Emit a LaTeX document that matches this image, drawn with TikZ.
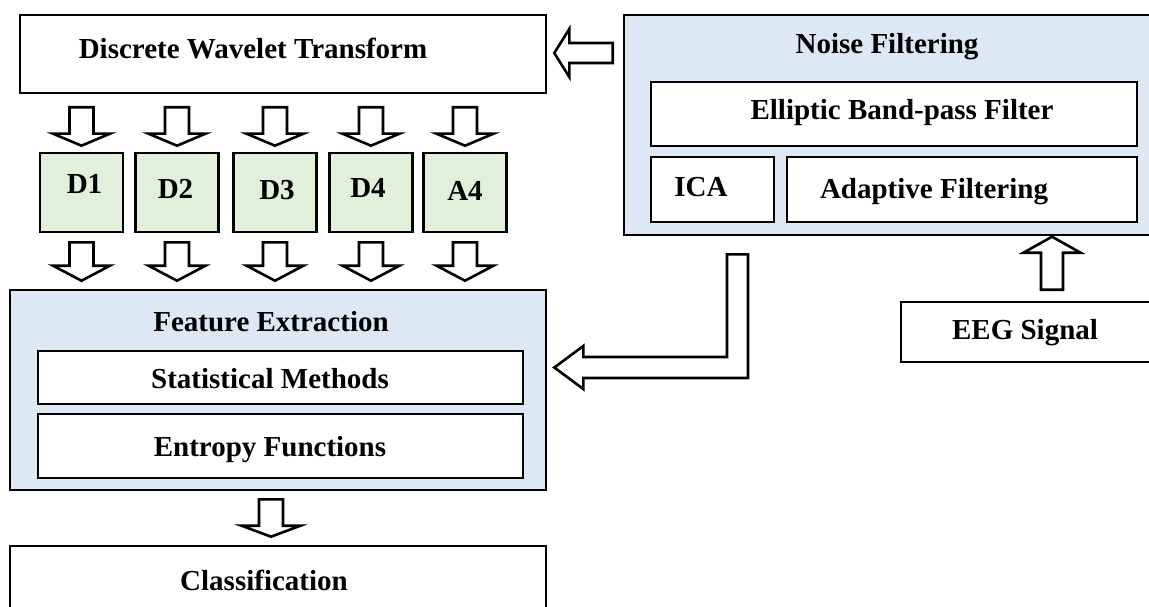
\documentclass[tikz,border=0pt]{standalone}
\usepackage{fontspec}
\setmainfont{Liberation Serif}
\usepackage{tikz}
\usetikzlibrary{calc}

\definecolor{groupblue}{HTML}{DEE8F4}
\definecolor{bandgreen}{HTML}{E2EFDA}

\tikzset{
	box/.style = {draw, line width = 2.6pt, fill = white, inner sep = 0pt},
	group/.style = {box, fill = groupblue},
	band/.style = {box, fill = bandgreen},
	blockarr/.style = {draw, line width = 2.6pt, fill = white, line join = miter}
}

% start, end, shaft half width, head half width, head length
\newcommand{\blockarrow}[5]{
	\coordinate (ba-s) at #1;
	\coordinate (ba-e) at #2;
	\coordinate (ba-h) at ($(ba-e)!#5!(ba-s)$);
	\draw [blockarr] ($(ba-s)!#3!90:(ba-e)$) -- ($(ba-h)!#3!90:(ba-e)$) -- ($(ba-h)!#4!90:(ba-e)$) -- (ba-e)
		-- ($(ba-h)!#4!-90:(ba-e)$) -- ($(ba-h)!#3!-90:(ba-e)$) -- ($(ba-s)!#3!-90:(ba-e)$) -- cycle;
}

\begin{document}
\begin{tikzpicture}[x = 1pt, y = -1pt, font = \bfseries\fontsize{29}{34}\selectfont]
	\useasboundingbox (0,0) rectangle (1149,607);

	\node [box, minimum width = 526pt, minimum height = 78pt,
		label = {[name = dwt-t, xshift = -30pt, yshift = 5pt]center:Discrete Wavelet Transform}] (dwt) at (283,54) {};

	\foreach \n/\x/\t/\dx/\dy in {d1/81.5/D1/3/9, d2/177/D2/-1.5/4, d3/275/D3/2/2, d4/371/D4/-3/5, a4/465/A4/0/2}
	{
		\node [band, minimum width = 83pt, minimum height = 79pt,
			label = {[name = \n-t, xshift = \dx pt, yshift = \dy pt]center:\t}] (\n) at (\x,192.5) {};
	}

	\node [group, minimum width = 536pt, minimum height = 200pt,
		label = {[name = feat-t, xshift = -7pt, yshift = 68pt]center:Feature Extraction}] (feat) at (278,390) {};
	\node [box, minimum width = 485pt, minimum height = 53pt,
		label = {[name = stat-t, xshift = -10.5pt, yshift = -1pt]center:Statistical Methods}] (stat) at (280.5,377.5) {};
	\node [box, minimum width = 485pt, minimum height = 64pt,
		label = {[name = entr-t, xshift = -10.5pt, yshift = -4pt]center:Entropy Functions}] (entr) at (280.5,446) {};

	\node [box, minimum width = 536pt, minimum height = 74pt,
		label = {[name = class-t, xshift = -14pt, yshift = 3pt]center:Classification}] (class) at (278,583) {};

	\node [group, minimum width = 528pt, minimum height = 220pt,
		label = {[name = noise-t, xshift = -1pt, yshift = 78pt]center:Noise Filtering}] (noise) at (888,125) {};
	\node [box, minimum width = 486pt, minimum height = 64pt,
		label = {[name = ellip-t, xshift = 8pt, yshift = 1pt]center:Elliptic Band-pass Filter}] (ellip) at (894,114) {};
	\node [box, minimum width = 123pt, minimum height = 65pt,
		label = {[name = ica-t, xshift = -11.5pt, yshift = 2.5pt]center:ICA}] (ica) at (712.5,189.5) {};
	\node [box, minimum width = 350pt, minimum height = 65pt,
		label = {[name = adapt-t, xshift = -28pt, yshift = -2.5pt]center:Adaptive Filtering}] (adapt) at (962,189.5) {};

	\node [box, minimum width = 259pt, minimum height = 60pt,
		label = {[name = eeg-t, xshift = -5.5pt, yshift = -1pt]center:EEG Signal}] (eeg) at (1030.5,332) {};

	\foreach \n in {d1, d2, d3, d4, a4}
	{
		\blockarrow{($(\n.north |- dwt.south)+(0,13)$)}{($(\n.north)+(0,-6)$)}{12pt}{28.5pt}{12pt}
		\blockarrow{($(\n.south)+(0,9)$)}{($(\n.south |- feat.north)+(0,-8)$)}{12pt}{28.5pt}{15pt}
	}

	\blockarrow{($(feat.south)+(-7,8)$)}{($(class.north)+(-7,-8)$)}{12pt}{29.5pt}{11pt}
	\blockarrow{($(noise.west |- dwt.east)+(-10,-1)$)}{($(dwt.east)+(7,-1)$)}{10pt}{24pt}{15pt}
	\blockarrow{($(eeg.north)+(21.5,-11)$)}{($(eeg.north -| 1052,0)+(0,-64)$)}{11pt}{28.5pt}{16pt}

	\coordinate (l-top) at ($(noise.south)+(-150.5,18)$);
	\coordinate (l-tip) at ($(feat.east)+(7,-22.5)$);
	\coordinate (l-bend) at (l-top |- l-tip);
	\draw [blockarr] ($(l-top)+(-10.5,0)$) -- ($(l-top)+(10.5,0)$) -- ($(l-bend)+(10.5,10.5)$) -- ($(l-tip)+(29,10.5)$)
		-- ($(l-tip)+(29,21.5)$) -- (l-tip) -- ($(l-tip)+(29,-21.5)$) -- ($(l-tip)+(29,-10.5)$)
		-- ($(l-bend)+(-10.5,-10.5)$) -- cycle;
\end{tikzpicture}
\end{document}
